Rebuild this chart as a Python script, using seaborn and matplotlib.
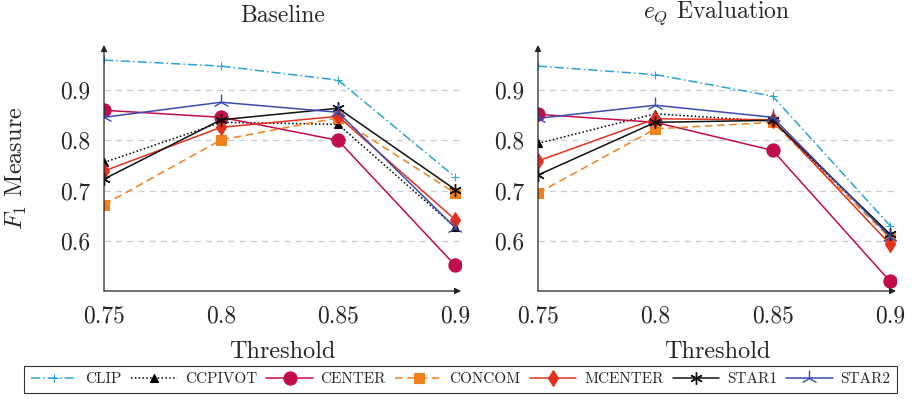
import seaborn as sns
import matplotlib.pyplot as plt
import pandas as pd

# Thresholds on the x axis
thresholds = [0.75, 0.8, 0.85, 0.9]
methods = ['CLIP', 'CCPIVOT', 'CENTER', 'CONCOM', 'MCENTER', 'STAR1', 'STAR2']

# F1 values
baseline_clip = [0.960, 0.948, 0.920, 0.727]
baseline_ccpivot = [0.756, 0.836, 0.832, 0.627]
baseline_center = [0.860, 0.846, 0.800, 0.551]
baseline_concom = [0.672, 0.801, 0.845, 0.695]
baseline_mcenter = [0.739, 0.826, 0.848, 0.642]
baseline_star1 = [0.723, 0.841, 0.864, 0.702]
baseline_star2 = [0.846, 0.876, 0.856, 0.626]

# F1 values
eq_clip = [0.948, 0.931, 0.888, 0.630]
eq_ccpivot = [0.794, 0.853, 0.838, 0.611]
eq_center = [0.852, 0.836, 0.780, 0.519]
eq_concom = [0.695, 0.823, 0.836, 0.605]
eq_mcenter = [0.759, 0.843, 0.841, 0.593]
eq_star1 = [0.731, 0.836, 0.840, 0.613]
eq_star2 = [0.844, 0.870, 0.846, 0.608]

baseline = [baseline_clip, baseline_ccpivot, baseline_center, baseline_concom,
            baseline_mcenter, baseline_star1, baseline_star2]
evaluation = [eq_clip, eq_ccpivot, eq_center, eq_concom,
              eq_mcenter, eq_star1, eq_star2]

# line style for each method: color, dashes, marker, marker size
styles = {
    'CLIP':    dict(color='#2ba3d6', dashes=(6, 2, 1, 2), marker='+', ms=6, mew=0.8),
    'CCPIVOT': dict(color='black', dashes=(1, 1.5), marker='^', ms=6, mew=0.8),
    'CENTER':  dict(color='#c20d4b', dashes=(), marker='o', ms=9.5, mew=0.8),
    'CONCOM':  dict(color='#f0811f', dashes=(5, 3), marker='s', ms=6.5, mew=0.8),
    'MCENTER': dict(color='#e2321f', dashes=(), marker='d', ms=8, mew=0.8),
    'STAR1':   dict(color='#111111', dashes=(), marker=(6, 2, 0), ms=9, mew=1.0),
    'STAR2':   dict(color='#3b4cb0', dashes=(), marker='2', ms=12, mew=1.0),
}

sns.set_style('white')
plt.rcParams['font.family'] = ['cmr10', 'DejaVu Serif']
plt.rcParams['mathtext.fontset'] = 'cm'
plt.rcParams['axes.formatter.use_mathtext'] = True

fig = plt.figure(figsize=(9.14, 3.99), dpi=100)
ax1 = fig.add_axes([0.1138, 0.2707, 0.3906, 0.6165])
ax2 = fig.add_axes([0.5886, 0.2707, 0.3917, 0.6165])


def draw_panel(ax, values, title):
    for name, vals in zip(methods, values):
        st = styles[name]
        df = pd.DataFrame({'Threshold': thresholds, 'F1': vals})
        sns.lineplot(data=df, x='Threshold', y='F1', ax=ax, color=st['color'],
                     marker=st['marker'], markersize=st['ms'],
                     markeredgewidth=st['mew'], markeredgecolor=st['color'],
                     linewidth=1.1, label=name, legend=False)
        if st['dashes']:
            ax.lines[-1].set_dashes(st['dashes'])
    ax.set_xlim(0.75, 0.9025)
    ax.set_ylim(0.5, 0.99)
    ax.set_xticks(thresholds)
    ax.set_xticklabels(['0.75', '0.8', '0.85', '0.9'])
    ax.set_yticks([0.6, 0.7, 0.8, 0.9])
    ax.set_yticklabels(['0.6', '0.7', '0.8', '0.9'])
    ax.tick_params(axis='both', direction='inout', length=6, width=0.6,
                   color='#888888', labelsize=17, pad=7)
    ax.yaxis.grid(True, linestyle=(0, (5, 4)), color='#cccccc', linewidth=0.9)
    ax.set_axisbelow(True)
    for s in ax.spines.values():
        s.set_visible(False)
    # axis lines with arrow heads
    ax.annotate('', xy=(1, 0), xytext=(0, 0), xycoords='axes fraction',
                arrowprops=dict(arrowstyle='-|>', color='#222222', lw=0.9,
                                mutation_scale=9, shrinkA=0, shrinkB=0))
    ax.annotate('', xy=(0, 1), xytext=(0, 0), xycoords='axes fraction',
                arrowprops=dict(arrowstyle='-|>', color='#222222', lw=0.9,
                                mutation_scale=9, shrinkA=0, shrinkB=0))
    ax.set_xlabel('Threshold', fontsize=17.5)
    ax.xaxis.set_label_coords(0.5, -0.248)
    ax.xaxis.label.set_va('center')
    ax.set_title(title, fontsize=17, pad=13, va='bottom')
    for lbl in ax.get_xticklabels() + ax.get_yticklabels():
        lbl.set_clip_on(False)


draw_panel(ax1, baseline, 'Baseline')
draw_panel(ax2, evaluation, '$e_Q$ Evaluation')
ax1.set_ylabel('$F_1$ Measure', fontsize=17.5)
ax1.yaxis.set_label_coords(-0.246, 0.5)
ax1.yaxis.label.set_va('center')
ax2.set_ylabel('')

handles = ax1.lines[:len(methods)]
leg = fig.legend(handles, methods, loc='lower center', ncol=7,
                 bbox_to_anchor=(0.504, 0.015), borderaxespad=0,
                 frameon=True, fancybox=False,
                 edgecolor='black', fontsize=11, handlelength=3.05,
                 columnspacing=0.6, handletextpad=0.5, borderpad=0.45)
leg.get_frame().set_linewidth(0.8)

fig.savefig('out.png', dpi=100)
